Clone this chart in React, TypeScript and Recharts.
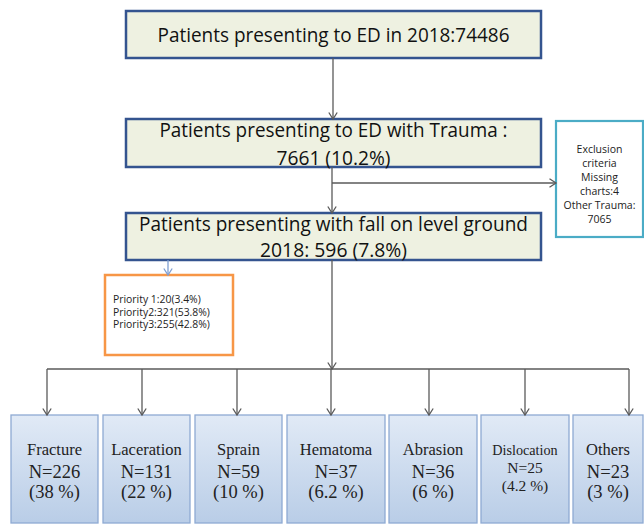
import React from 'react';
import { ComposedChart, XAxis, YAxis, ReferenceArea, ReferenceLine } from 'recharts';

// ---- data ----
const flowTitles = [
  ['Patients presenting to ED in 2018:74486'],
  ['Patients presenting to ED with Trauma :', '7661 (10.2%)'],
  ['Patients presenting with fall on level ground', '2018: 596 (7.8%)'],
];
const exclusionLines = ['Exclusion', 'criteria', 'Missing', 'charts:4', 'Other Trauma:', '7065'];
const priorityLines = ['Priority 1:20(3.4%)', 'Priority2:321(53.8%)', 'Priority3:255(42.8%)'];
const injuryTypes = ['Fracture', 'Laceration', 'Sprain', 'Hematoma', 'Abrasion', 'Dislocation', 'Others'];
const injuryCounts = [226, 131, 59, 37, 36, 25, 23];
const injuryPercents = ['38 %', '22 %', '10 %', '6.2 %', '6 %', '4.2 %', '3 %'];

// ---- layout ----
const W = 644;
const H = 525;
const topBoxX = [126, 541];
const topBoxY = [[11, 58], [119, 167], [213, 260]];
const topBaselines = [[31], [18, 46], [18, 44]];
const topWidths = [[352], [348, 114], [389, 147]];
const exclBox = { x1: 556, x2: 643, y1: 121, y2: 237 };
const prioBox = { x1: 105, x2: 233, y1: 275, y2: 355 };
const botX1 = [11, 103, 195, 287, 389, 481, 573];
const botX2 = [98, 190, 282, 385, 477, 569, 643];
const botArrowX = [47, 142, 237, 331, 429, 525, 629];
const botY = [415, 523];
const busY = 369;
const mainX = 332;

const SANS = '"Open Sans", "Noto Sans", sans-serif';
const SERIF = '"Liberation Serif", "Times New Roman", serif';
const LINE = '#5a5a5a';

const Arrow = (color: string, head: boolean) => (p: any) => {
  const { x1, y1, x2, y2 } = p;
  const dx = x2 - x1;
  const dy = y2 - y1;
  const len = Math.sqrt(dx * dx + dy * dy) || 1;
  const ux = dx / len;
  const uy = dy / len;
  const px = -uy;
  const py = ux;
  const L = 6.5;
  const Wd = 4.2;
  return (
    <g>
      <line x1={x1} y1={y1} x2={x2} y2={y2} stroke={color} strokeWidth={1.3} />
      {head && (
        <polyline
          points={`${x2 - ux * L + px * Wd},${y2 - uy * L + py * Wd} ${x2},${y2} ${x2 - ux * L - px * Wd},${y2 - uy * L - py * Wd}`}
          fill="none"
          stroke={color}
          strokeWidth={1.3}
        />
      )}
    </g>
  );
};

const TopBox = (idx: number) => (p: any) => {
  const { x, y, width, height } = p;
  const cx = x + width / 2;
  return (
    <g>
      <rect x={x} y={y} width={width} height={height} fill="#eef1e1" stroke="#34548f" strokeWidth={2.5} />
      {flowTitles[idx].map((t, i) => (
        <text
          key={i}
          x={cx}
          y={y + topBaselines[idx][i]}
          textAnchor="middle"
          fontFamily={SANS}
          fontSize={19.5}
          fill="#111"
          textLength={topWidths[idx][i]}
          lengthAdjust="spacingAndGlyphs"
        >
          {t}
        </text>
      ))}
    </g>
  );
};

const ExclBox = (p: any) => {
  const { x, y, width, height } = p;
  const cx = x + width / 2;
  return (
    <g>
      <rect x={x} y={y} width={width} height={height} fill="#ffffff" stroke="#4bacc6" strokeWidth={2.2} />
      {exclusionLines.map((t, i) => (
        <text key={i} x={cx} y={y + 32 + i * 14} textAnchor="middle" fontFamily={SANS} fontSize={10.5} fill="#222">
          {t}
        </text>
      ))}
    </g>
  );
};

const PrioBox = (p: any) => {
  const { x, y, width, height } = p;
  return (
    <g>
      <rect x={x} y={y} width={width} height={height} fill="#ffffff" stroke="#f79646" strokeWidth={2.5} />
      {priorityLines.map((t, i) => (
        <text key={i} x={x + 8} y={y + 28 + i * 12.6} fontFamily={SANS} fontSize={10.4} fill="#222">
          {t}
        </text>
      ))}
    </g>
  );
};

const BotBox = (idx: number) => (p: any) => {
  const { x, y, width, height } = p;
  const cx = x + width / 2;
  const small = injuryTypes[idx] === 'Dislocation';
  const base = small ? [40, 58, 76] : [40, 63, 83];
  const f1 = small ? 14.2 : 16.5;
  const f2 = small ? 15.5 : 18.5;
  return (
    <g>
      <defs>
        <linearGradient id={`bg${idx}`} x1="0" y1="0" x2="0" y2="1">
          <stop offset="0%" stopColor="#e1eaf6" />
          <stop offset="100%" stopColor="#b9cde7" />
        </linearGradient>
      </defs>
      <rect x={x} y={y} width={width} height={height} fill={`url(#bg${idx})`} stroke="#8eaad3" strokeWidth={1.3} />
      <text x={cx} y={y + base[0]} textAnchor="middle" fontFamily={SERIF} fontSize={f1} fill="#222">
        {injuryTypes[idx]}
      </text>
      <text x={cx} y={y + base[1]} textAnchor="middle" fontFamily={SERIF} fontSize={f2} fill="#222">
        {`N=${injuryCounts[idx]}`}
      </text>
      <text x={cx} y={y + base[2]} textAnchor="middle" fontFamily={SERIF} fontSize={f2} fill="#222">
        {`(${injuryPercents[idx]})`}
      </text>
    </g>
  );
};

const dummy = [{ x: 0, y: 0 }];

export default function App() {
  return (
    <div style={{ position: 'absolute', left: 0, top: 0, width: W, height: H, background: '#fff' }}>
      <ComposedChart width={W} height={H} data={dummy} margin={{ top: 0, right: 0, bottom: 0, left: 0 }}>
        <XAxis type="number" dataKey="x" domain={[0, W]} hide allowDataOverflow />
        <YAxis type="number" dataKey="y" domain={[0, H]} reversed hide allowDataOverflow />

        {/* connectors */}
        <ReferenceLine segment={[{ x: mainX + 1, y: topBoxY[0][1] }, { x: mainX + 1, y: topBoxY[1][0] }]} ifOverflow="visible" shape={Arrow(LINE, true)} />
        <ReferenceLine segment={[{ x: mainX, y: topBoxY[1][1] }, { x: mainX, y: topBoxY[2][0] }]} ifOverflow="visible" shape={Arrow(LINE, true)} />
        <ReferenceLine segment={[{ x: mainX, y: 183 }, { x: exclBox.x1, y: 183 }]} ifOverflow="visible" shape={Arrow(LINE, true)} />
        <ReferenceLine segment={[{ x: mainX, y: topBoxY[2][1] }, { x: mainX, y: busY }]} ifOverflow="visible" shape={Arrow(LINE, true)} />
        <ReferenceLine segment={[{ x: 168, y: topBoxY[2][1] }, { x: 168, y: prioBox.y1 }]} ifOverflow="visible" shape={Arrow('#7f9fd2', true)} />
        <ReferenceLine segment={[{ x: botArrowX[0], y: busY }, { x: botArrowX[6], y: busY }]} ifOverflow="visible" shape={Arrow(LINE, false)} />
        {botArrowX.map((ax, i) => (
          <ReferenceLine key={`a${i}`} segment={[{ x: ax, y: busY }, { x: ax, y: botY[0] }]} ifOverflow="visible" shape={Arrow(LINE, true)} />
        ))}

        {/* boxes */}
        {flowTitles.map((_, i) => (
          <ReferenceArea
            key={`t${i}`}
            x1={topBoxX[0]}
            x2={topBoxX[1]}
            y1={topBoxY[i][0]}
            y2={topBoxY[i][1]}
            ifOverflow="visible"
            shape={TopBox(i)}
          />
        ))}
        <ReferenceArea x1={exclBox.x1} x2={exclBox.x2} y1={exclBox.y1} y2={exclBox.y2} ifOverflow="visible" shape={ExclBox} />
        <ReferenceArea x1={prioBox.x1} x2={prioBox.x2} y1={prioBox.y1} y2={prioBox.y2} ifOverflow="visible" shape={PrioBox} />
        {injuryTypes.map((_, i) => (
          <ReferenceArea
            key={`b${i}`}
            x1={botX1[i]}
            x2={botX2[i]}
            y1={botY[0]}
            y2={botY[1]}
            ifOverflow="visible"
            shape={BotBox(i)}
          />
        ))}
      </ComposedChart>
    </div>
  );
}
